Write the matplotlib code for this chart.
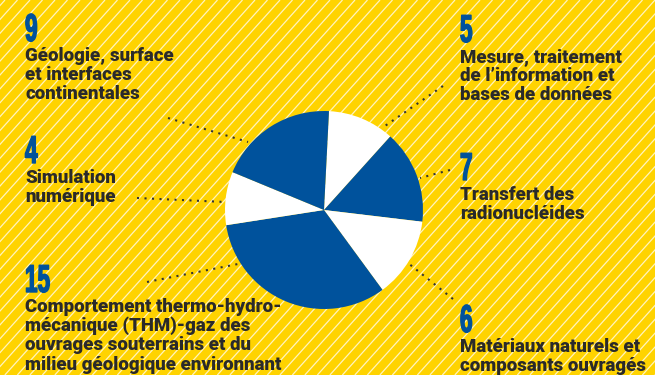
import numpy as np
import matplotlib
matplotlib.use("Agg")
import matplotlib.pyplot as plt
from matplotlib.collections import LineCollection
from matplotlib import patheffects
from matplotlib.transforms import Affine2D

# ---- data (clockwise from top) ----
categories = [
    "Mesure, traitement\nde l\u2019information et\nbases de données",
    "Transfert des\nradionucléides",
    "Matériaux naturels et\ncomposants ouvragés",
    "Comportement thermo-hydro-\nmécanique (THM)-gaz des\nouvrages souterrains et du\nmilieu géologique environnant",
    "Simulation\nnumérique",
    "Géologie, surface\net interfaces\ncontinentales",
]
values = [5, 7, 6, 15, 4, 9]
number_labels = ["5", "7", "6", "15", "4", "9"]

# ---- style / layout ----
W, H = 655, 375
YELLOW = "#FFD300"
BLUE = "#00529C"
WHITE = "#FFFFFF"
TEXT = "#2A2A2A"
slice_colors = [WHITE, BLUE, WHITE, BLUE, WHITE, BLUE]

label_pos = [(460, 62), (460, 200), (460, 352), (25, 312), (25, 183), (25, 61)]
line_gap = 19.2
num_gap = 20
leaders = [((443, 86), (382, 128)), ((450, 170), (420, 178)), ((453, 299), (408, 263)),
           ((147, 282), (238, 264)), ((137, 198), (225, 202)), ((168, 118), (248, 142))]


class Squeeze(patheffects.AbstractPathEffect):
    """Draw text glyphs compressed horizontally (and slightly emboldened)."""

    def __init__(self, sx, stroke=0.0):
        super().__init__()
        self.sx = sx
        self.stroke = stroke

    def draw_path(self, renderer, gc, tpath, affine, rgbFace=None):
        aff = Affine2D().scale(self.sx, 1.0) + affine
        renderer.draw_path(gc, tpath, aff, rgbFace)
        if self.stroke and rgbFace is not None:
            gc0 = renderer.new_gc()
            gc0.copy_properties(gc)
            gc0.set_linewidth(self.stroke)
            gc0.set_foreground(rgbFace)
            gc0.set_joinstyle("round")
            renderer.draw_path(gc0, tpath, aff, None)
            gc0.restore()


fig = plt.figure(figsize=(W / 100, H / 100), dpi=100)
fig.patch.set_facecolor(YELLOW)
ax = fig.add_axes([0, 0, 1, 1])


def Y(y):
    return H - y


# diagonal stripes
segs = []
step = 12.5
ang = np.deg2rad(48)
dx = H / np.tan(ang)
for x0 in np.arange(-dx - 20, W + 20, step):
    segs.append([(x0, 0), (x0 + dx, H)])
ax.add_collection(LineCollection(segs, colors=(1, 1, 1, 0.75), linewidths=0.9, zorder=0))

# pie
ax.pie(values, colors=slice_colors, startangle=87.1, counterclock=False,
       center=(324, Y(210)), radius=99, frame=True,
       wedgeprops=dict(linewidth=0, zorder=2))

# leader lines
for (p0, p1) in leaders:
    ax.plot([p0[0], p1[0]], [Y(p0[1]), Y(p1[1])], color="#333333", lw=1.5,
            linestyle=(0, (1, 2.6)), zorder=3)

for cat, num, (lx, by) in zip(categories, number_labels, label_pos):
    ax.text(lx, Y(by - num_gap), num, color=BLUE, fontsize=28, fontweight="bold",
            family=["Liberation Sans", "DejaVu Sans"], ha="left", va="baseline",
            zorder=4, path_effects=[Squeeze(0.58, stroke=1.0)])
    for i, line in enumerate(cat.split("\n")):
        ax.text(lx, Y(by + i * line_gap), line, color=TEXT, fontsize=13.4,
                fontweight=900, family=["Roboto", "DejaVu Sans"],
                ha="left", va="baseline", zorder=4)

ax.set_xlim(0, W)
ax.set_ylim(0, H)
ax.set_aspect("auto")
ax.axis("off")
fig.savefig("out.png", dpi=100, facecolor=YELLOW)
